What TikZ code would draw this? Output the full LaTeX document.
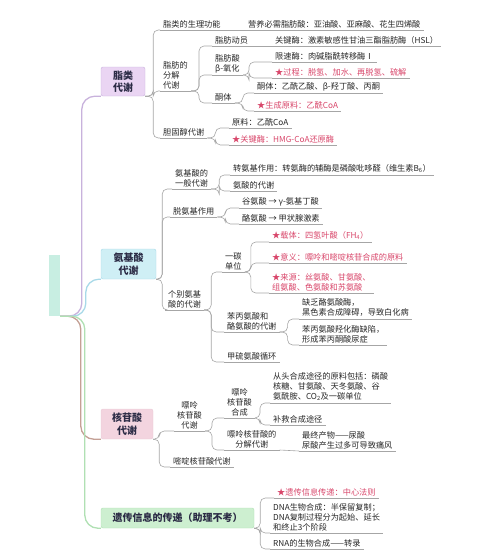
\documentclass[tikz,border=0pt]{standalone}
\usepackage{fontspec}
\setmainfont{Noto Sans CJK SC}
\newcommand\fsz{\fontsize{8.2}{10}\selectfont}
\newcommand\mfz{\fontsize{10}{12.5}\selectfont\bfseries}
\definecolor{linegray}{HTML}{A6A6A6}
\definecolor{redc}{HTML}{D8466A}
\definecolor{boxtxt}{HTML}{2B2B45}
\definecolor{lipfill}{HTML}{EAD5F3}
\definecolor{lipline}{HTML}{C8B2DC}
\definecolor{amifill}{HTML}{CFEFF5}
\definecolor{amiline}{HTML}{A8D9E8}
\definecolor{nucfill}{HTML}{F3D4DF}
\definecolor{nucline}{HTML}{C4A095}
\definecolor{genfill}{HTML}{CDEFD0}
\definecolor{genline}{HTML}{B0E0B3}
\definecolor{rootfill}{HTML}{C8EEE2}
\begin{document}
\begin{tikzpicture}[x=1pt,y=-1pt,
  t/.style={anchor=south west,inner xsep=3pt,inner ysep=2pt,font=\fsz,align=left,text=black!85},
  tc/.style={t,align=center},
  rt/.style={t,text=redc},
  ul/.style={draw=linegray,line width=0.6pt},
  conn/.style={draw=linegray,line width=0.6pt,rounded corners=5pt},
  mbox/.style={rounded corners=2pt,inner sep=0pt,font=\mfz,align=center,text=boxtxt},
  mainln/.style={line width=1.3pt,rounded corners=13pt}]
\useasboundingbox (0,0) rectangle (500,557);

% root and main boxes
\node[fill=rootfill,minimum width=11pt,minimum height=61pt,inner sep=0pt] (root) at (54.5,285.5) {};
\node[mbox,fill=lipfill,draw=lipline,minimum width=44pt,minimum height=29pt] (lip) at (123,81.5) {脂类\\代谢};
\node[mbox,fill=amifill,draw=amiline,minimum width=55pt,minimum height=30pt] (ami) at (128.5,264) {氨基酸\\代谢};
\node[mbox,fill=nucfill,draw=nucfill!80!black!20!nucfill,minimum width=52pt,minimum height=30pt] (nuc) at (127,424) {核苷酸\\代谢};
\node[mbox,fill=genfill,draw=genline,minimum width=153pt,minimum height=20pt] (gen) at (177.5,518) {遗传信息的传递（助理不考）};

\draw[mainln,lipline] (root.south east) -| ([xshift=-19pt]lip.south west) -- (lip.south west);
\draw[mainln,amiline] (root.south east) -| ([xshift=-15pt]ami.south west) -- (ami.south west);
\draw[mainln,nucline] (root.south east) -| ([xshift=-20pt]nuc.south west) -- (nuc.south west);
\draw[mainln,genline] (root.south east) -| ([xshift=-16pt]gen.south west) -- (gen.south west);

% ---- lipid ----
\node[t] (l1) at (160,30) {脂类的生理功能};
\node[t] (l1a) at (245,30) {营养必需脂肪酸：亚油酸、亚麻酸、花生四烯酸};
\node[t] (l2) at (160,91) {脂肪的\\分解\\代谢};
\node[t] (l2a) at (212,46) {脂肪动员};
\node[t] (l2a1) at (272,46) {关键酶：激素敏感性甘油三酯脂肪酶（HSL）};
\node[t] (l2b) at (212,75) {脂肪酸\\β-氧化};
\node[t] (l2b1) at (272,62) {限速酶：肉碱脂酰转移酶Ⅰ};
\node[rt] (l2b2) at (272,78) {★过程：脱氢、加水、再脱氢、硫解};
\node[t] (l2c) at (212,103) {酮体};
\node[t] (l2c1) at (254,93) {酮体：乙酰乙酸、β-羟丁酸、丙酮};
\node[rt] (l2c2) at (254,111) {★生成原料：乙酰CoA};
\node[t] (l3) at (160,138) {胆固醇代谢};
\node[t] (l3a) at (229,128) {原料：乙酰CoA};
\node[rt] (l3b) at (229,145) {★关键酶：HMG-CoA还原酶};

\foreach \p/\c in {lip/l1,lip/l2,lip/l3}
  \draw[conn] (\p.south east) -- ++(8,0) |- (\c.south west);
\draw[conn] (l1.south east) -- (l1a.south west);
\foreach \c in {l2a,l2b,l2c}
  \draw[conn] (l2.south east) -- ++(8,0) |- (\c.south west);
\draw[conn] (l2a.south east) -- (l2a1.south west);
\foreach \c in {l2b1,l2b2}
  \draw[conn] (l2b.south east) -- ++(6,0) |- (\c.south west);
\foreach \c in {l2c1,l2c2}
  \draw[conn] (l2c.south east) -- ++(8,0) |- (\c.south west);
\foreach \c in {l3a,l3b}
  \draw[conn] (l3.south east) -- ++(8,0) |- (\c.south west);

% ---- amino acids ----
\node[tc] (a1) at (172,189) {氨基酸的\\一般代谢};
\node[t] (a1a) at (230,175) {转氨基作用：转氨酶的辅酶是磷酸吡哆醛（维生素B\textsubscript{6}）};
\node[t] (a1b) at (230,191) {氨酸的代谢};
\node[t] (a2) at (170,217) {脱氨基作用};
\node[t] (a2a) at (239,208) {谷氨酸 → γ-氨基丁酸};
\node[t] (a2b) at (239,224) {酪氨酸 → 甲状腺激素};
\node[t] (a3) at (165,310) {个别氨基\\酸的代谢};
\node[tc] (a3a) at (222,272) {一碳\\单位};
\node[rt] (a3a1) at (269,242) {★载体：四氢叶酸（FH\textsubscript{4}）};
\node[rt] (a3a2) at (269,263) {★意义：嘌呤和嘧啶核苷合成的原料};
\node[rt] (a3a3) at (269,293) {★来源：丝氨酸、甘氨酸、\\组氨酸、色氨酸和苏氨酸};
\node[t] (a3b) at (224,332) {苯丙氨酸和\\酪氨酸的代谢};
\node[t] (a3b1) at (299,319) {缺乏酪氨酸酶，\\黑色素合成障碍，导致白化病};
\node[t] (a3b2) at (299,345) {苯丙氨酸羟化酶缺陷，\\形成苯丙酮酸尿症};
\node[t] (a3c) at (224,362) {甲硫氨酸循环};

\foreach \c in {a1,a2,a3}
  \draw[conn] (ami.south east) -- ++(6,0) |- (\c.south west);
\foreach \c in {a1a,a1b}
  \draw[conn] (a1.south east) -- ++(8,0) |- (\c.south west);
\foreach \c in {a2a,a2b}
  \draw[conn] (a2.south east) -- ++(8,0) |- (\c.south west);
\foreach \c in {a3a,a3b,a3c}
  \draw[conn] (a3.south east) -- ++(7,0) |- (\c.south west);
\foreach \c in {a3a1,a3a2,a3a3}
  \draw[conn] (a3a.south east) -- ++(6,0) |- (\c.south west);
\foreach \c in {a3b1,a3b2}
  \draw[conn] (a3b.south east) -- ++(8,0) |- (\c.south west);

% ---- nucleotides ----
\node[tc] (n1) at (174,431) {嘌呤\\核苷酸\\代谢};
\node[tc] (n1a) at (224,418) {嘌呤\\核苷酸\\合成};
\node[t] (n1a1) at (270,403) {从头合成途径的原料包括：磷酸\\核糖、甘氨酸、天冬氨酸、谷\\氨酰胺、CO\textsubscript{2}及一碳单位};
\node[t] (n1a2) at (270,425) {补救合成途径};
\node[tc] (n1b) at (224,450) {嘌呤核苷酸的\\分解代谢};
\node[t] (n1b1) at (299,451) {最终产物——尿酸\\尿酸产生过多可导致痛风};
\node[t] (n2) at (170,467) {嘧啶核苷酸代谢};

\foreach \c in {n1,n2}
  \draw[conn] (nuc.south east) -- ++(6,0) |- (\c.south west);
\foreach \c in {n1a,n1b}
  \draw[conn] (n1.south east) -- ++(7,0) |- (\c.south west);
\foreach \c in {n1a1,n1a2}
  \draw[conn] (n1a.south east) -- ++(5,0) |- (\c.south west);
\draw[conn] (n1b.south east) -- (n1b1.south west);

% ---- genetic information ----
\node[rt] (g1) at (274,498) {★遗传信息传递：中心法则};
\node[t] (g2) at (270,533) {DNA生物合成：半保留复制；\\DNA复制过程分为起始、延长\\和终止3个阶段};
\node[t] (g3) at (270,549) {RNA的生物合成——转录};
\foreach \c in {g1,g2,g3}
  \draw[conn] (gen.south east) -- ++(6,0) |- (\c.south west);

% underlines
\foreach \n in {l1,l1a,l2,l2a,l2a1,l2b,l2b1,l2b2,l2c,l2c1,l2c2,l3,l3a,l3b,
  a1,a1a,a1b,a2,a2a,a2b,a3,a3a,a3a1,a3a2,a3a3,a3b,a3b1,a3b2,a3c,
  n1,n1a,n1a1,n1a2,n1b,n1b1,n2,g1,g2,g3}
  \draw[ul] (\n.south west) -- (\n.south east);
\end{tikzpicture}
\end{document}
